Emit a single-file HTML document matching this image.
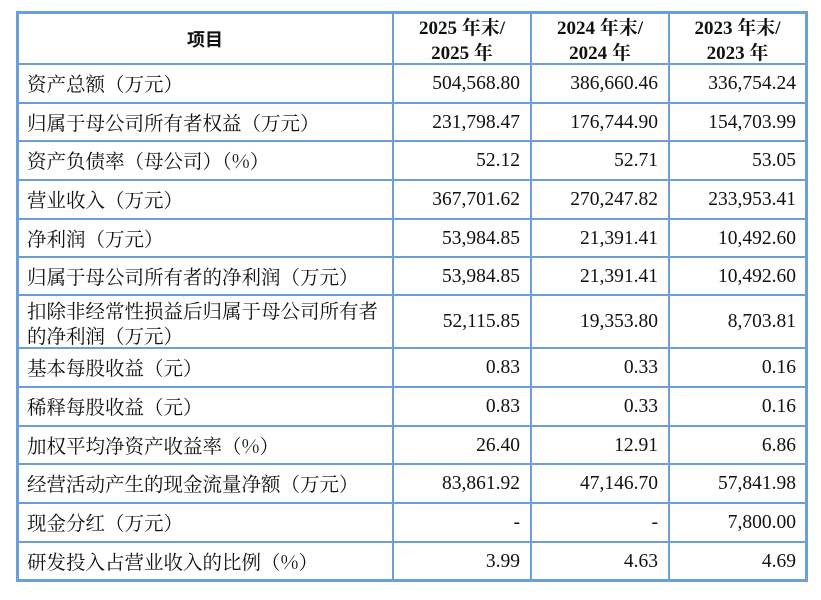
<!DOCTYPE html>
<html><head><meta charset="utf-8">
<style>
html,body{margin:0;padding:0;background:#fff;}
body{width:821px;height:600px;position:relative;overflow:hidden;font-family:"Liberation Serif","Noto Serif CJK SC",serif;color:#111;}
.h{position:absolute;left:16px;width:792px;height:2px;background:#6a9fd8;}
.v{position:absolute;top:12px;height:570px;width:2px;background:#6a9fd8;}
.c{position:absolute;display:flex;align-items:center;font-size:19.5px;line-height:25px;white-space:nowrap;}
.l{left:27px;width:362px;font-family:"Noto Serif CJK SC","Liberation Serif",serif;font-size:19.5px;}
.n1{left:395px;width:125px;justify-content:flex-end;}
.n2{left:533px;width:125px;justify-content:flex-end;}
.n3{left:671px;width:125px;justify-content:flex-end;}
.hd{font-weight:bold;justify-content:center;text-align:center;line-height:25px;font-size:19px;}
</style></head><body>
<div class="h" style="top:11px;height:3px"></div>
<div class="h" style="top:63px"></div>
<div class="h" style="top:102px"></div>
<div class="h" style="top:140px"></div>
<div class="h" style="top:179px"></div>
<div class="h" style="top:218px"></div>
<div class="h" style="top:256px"></div>
<div class="h" style="top:294px"></div>
<div class="h" style="top:347px"></div>
<div class="h" style="top:386px"></div>
<div class="h" style="top:425px"></div>
<div class="h" style="top:463px"></div>
<div class="h" style="top:502px"></div>
<div class="h" style="top:541px"></div>
<div class="h" style="top:579px;height:3px"></div>
<div class="v" style="left:16px;width:3px"></div>
<div class="v" style="left:392px"></div>
<div class="v" style="left:530px"></div>
<div class="v" style="left:668px"></div>
<div class="v" style="left:805px;width:3px"></div>

<div class="c hd" style="left:18px;width:374px;top:15px;height:49px;font-family:'Noto Sans CJK SC',sans-serif;font-size:18px;">项目</div>
<div class="c hd" style="left:394px;width:136px;top:16px;height:49px;">2025 年末/<br>2025 年</div>
<div class="c hd" style="left:532px;width:136px;top:16px;height:49px;">2024 年末/<br>2024 年</div>
<div class="c hd" style="left:670px;width:135px;top:16px;height:49px;">2023 年末/<br>2023 年</div>

<div class="c l" style="top:65px;height:37px">资产总额（万元）</div>
<div class="c n1" style="top:65px;height:37px">504,568.80</div>
<div class="c n2" style="top:65px;height:37px">386,660.46</div>
<div class="c n3" style="top:65px;height:37px">336,754.24</div>

<div class="c l" style="top:104px;height:36px">归属于母公司所有者权益（万元）</div>
<div class="c n1" style="top:104px;height:36px">231,798.47</div>
<div class="c n2" style="top:104px;height:36px">176,744.90</div>
<div class="c n3" style="top:104px;height:36px">154,703.99</div>

<div class="c l" style="top:142px;height:37px">资产负债率（母公司）（%）</div>
<div class="c n1" style="top:142px;height:37px">52.12</div>
<div class="c n2" style="top:142px;height:37px">52.71</div>
<div class="c n3" style="top:142px;height:37px">53.05</div>

<div class="c l" style="top:181px;height:37px">营业收入（万元）</div>
<div class="c n1" style="top:181px;height:37px">367,701.62</div>
<div class="c n2" style="top:181px;height:37px">270,247.82</div>
<div class="c n3" style="top:181px;height:37px">233,953.41</div>

<div class="c l" style="top:220px;height:36px">净利润（万元）</div>
<div class="c n1" style="top:220px;height:36px">53,984.85</div>
<div class="c n2" style="top:220px;height:36px">21,391.41</div>
<div class="c n3" style="top:220px;height:36px">10,492.60</div>

<div class="c l" style="top:258px;height:36px">归属于母公司所有者的净利润（万元）</div>
<div class="c n1" style="top:258px;height:36px">53,984.85</div>
<div class="c n2" style="top:258px;height:36px">21,391.41</div>
<div class="c n3" style="top:258px;height:36px">10,492.60</div>

<div class="c l" style="top:297px;height:51px;line-height:25px">扣除非经常性损益后归属于母公司所有者<br>的净利润（万元）</div>
<div class="c n1" style="top:296px;height:51px">52,115.85</div>
<div class="c n2" style="top:296px;height:51px">19,353.80</div>
<div class="c n3" style="top:296px;height:51px">8,703.81</div>

<div class="c l" style="top:349px;height:37px">基本每股收益（元）</div>
<div class="c n1" style="top:349px;height:37px">0.83</div>
<div class="c n2" style="top:349px;height:37px">0.33</div>
<div class="c n3" style="top:349px;height:37px">0.16</div>

<div class="c l" style="top:388px;height:37px">稀释每股收益（元）</div>
<div class="c n1" style="top:388px;height:37px">0.83</div>
<div class="c n2" style="top:388px;height:37px">0.33</div>
<div class="c n3" style="top:388px;height:37px">0.16</div>

<div class="c l" style="top:427px;height:36px">加权平均净资产收益率（%）</div>
<div class="c n1" style="top:427px;height:36px">26.40</div>
<div class="c n2" style="top:427px;height:36px">12.91</div>
<div class="c n3" style="top:427px;height:36px">6.86</div>

<div class="c l" style="top:465px;height:37px">经营活动产生的现金流量净额（万元）</div>
<div class="c n1" style="top:465px;height:37px">83,861.92</div>
<div class="c n2" style="top:465px;height:37px">47,146.70</div>
<div class="c n3" style="top:465px;height:37px">57,841.98</div>

<div class="c l" style="top:504px;height:37px">现金分红（万元）</div>
<div class="c n1" style="top:504px;height:37px">-</div>
<div class="c n2" style="top:504px;height:37px">-</div>
<div class="c n3" style="top:504px;height:37px">7,800.00</div>

<div class="c l" style="top:543px;height:36px">研发投入占营业收入的比例（%）</div>
<div class="c n1" style="top:543px;height:36px">3.99</div>
<div class="c n2" style="top:543px;height:36px">4.63</div>
<div class="c n3" style="top:543px;height:36px">4.69</div>
</body></html>
